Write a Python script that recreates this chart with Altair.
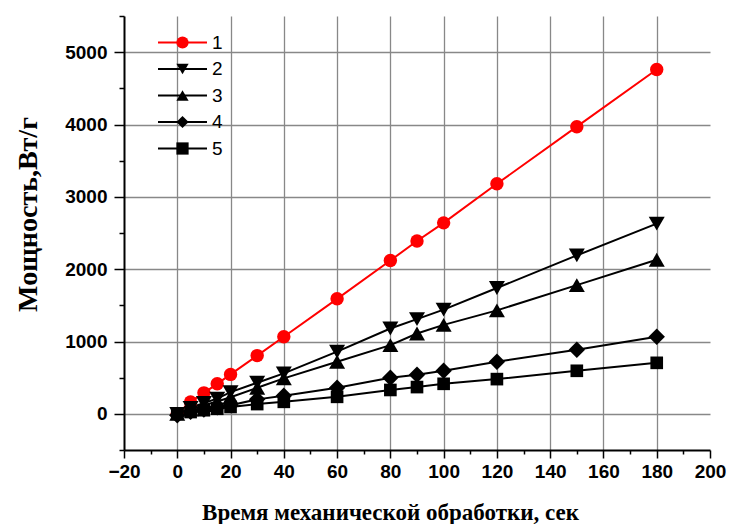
import altair as alt
import pandas as pd

x_vals = [0, 5, 10, 15, 20, 30, 40, 60, 80, 90, 100, 120, 150, 180]
s1 = [0, 165, 290, 415, 545, 805, 1065, 1590, 2120, 2390, 2640, 3180, 3970, 4760]
s2 = [0, 80, 150, 210, 300, 430, 560, 860, 1180, 1310, 1440, 1740, 2190, 2630]
s3 = [0, 60, 120, 170, 230, 360, 490, 720, 950, 1110, 1230, 1430, 1780, 2130]
s4 = [-20, 30, 60, 90, 120, 200, 250, 360, 500, 540, 595, 720, 885, 1065]
s5 = [0, 25, 50, 70, 95, 135, 166, 235, 330, 370, 415, 480, 595, 705]
series_names = ["1", "2", "3", "4", "5"]
series_colors = ["#ff0000", "#000000", "#000000", "#000000", "#000000"]
series_shapes = ["circle", "triangle-down", "triangle-up", "diamond", "square"]
series_sizes = [180, 256, 256, 270, 160]

x_major = list(range(-20, 201, 20))
x_minor = list(range(-10, 191, 20))
x_grid = list(range(0, 181, 20))
y_major = list(range(0, 5001, 1000))
y_minor = list(range(-500, 5501, 1000))

rows = []
for name, vals in zip(series_names, [s1, s2, s3, s4, s5]):
    for xv, yv in zip(x_vals, vals):
        rows.append({"t": xv, "p": yv, "series": name, "mk": name})
df = pd.DataFrame(rows)

xs = alt.Scale(domain=[-20, 200], nice=False, zero=False)
ys = alt.Scale(domain=[-500, 5500], nice=False, zero=False)

x_axis_major = alt.Axis(
    orient="bottom", offset=0, values=x_major,
    title="Время механической обработки, сек",
    titleFont="Liberation Serif", titleFontSize=23, titleFontWeight="bold", titleColor="black",
    titleX=266, titleY=69, titleBaseline="alphabetic", titleAlign="center",
    labelFont="Liberation Sans", labelFontSize=19, labelFontWeight="bold", labelColor="black",
    labelPadding=4, labelFlush=False, labelOverlap=False,
    domainColor="black", domainWidth=2,
    tickColor="black", tickWidth=1.5, tickSize=8,
    grid=False,
)
y_axis_major = alt.Axis(
    orient="left", offset=0, values=y_major, format="d",
    title="Мощность,Вт/г",
    titleFont="Liberation Serif", titleFontSize=28, titleFontWeight="bold", titleColor="black",
    titleX=-96, titleY=198, titleBaseline="middle", titleAlign="center", titleAngle=-90,
    labelFont="Liberation Sans", labelFontSize=19, labelFontWeight="bold", labelColor="black",
    labelPadding=7, labelFlush=False, labelOverlap=False,
    domainColor="black", domainWidth=2,
    tickColor="black", tickWidth=1.5, tickSize=10,
    grid=True, gridColor="#888888", gridWidth=1.3,
)
x_axis_minor = alt.Axis(
    orient="bottom", offset=0, values=x_minor, title=None,
    labels=False, domain=False, grid=False,
    tickColor="black", tickWidth=1.5, tickSize=4,
)
y_axis_minor = alt.Axis(
    orient="left", offset=0, values=y_minor, title=None,
    labels=False, domain=False, grid=False,
    tickColor="black", tickWidth=1.5, tickSize=5,
)
x_axis_grid = alt.Axis(
    orient="bottom", offset=0, values=x_grid, title=None,
    labels=False, domain=False, ticks=False,
    grid=True, gridColor="#888888", gridWidth=1.3,
)

legend_common = dict(
    title=None, orient="none", legendX=49, legendY=17,
    symbolSize=150, padding=0, rowPadding=6.5,
    labelFont="Liberation Sans", labelFontSize=19, labelColor="black",
)

grid_layer = alt.Chart(df).mark_point(opacity=0).encode(
    x=alt.X("t:Q", scale=xs, axis=x_axis_grid),
    y=alt.Y("p:Q", scale=ys, axis=None),
)

lines = alt.Chart(df).mark_line(strokeWidth=2).encode(
    x=alt.X("t:Q", scale=xs, axis=x_axis_major),
    y=alt.Y("p:Q", scale=ys, axis=y_axis_major),
    stroke=alt.Stroke(
        "series:N",
        scale=alt.Scale(domain=series_names, range=series_colors),
        legend=alt.Legend(
            symbolType="M-4,0L4,0", symbolStrokeWidth=2,
            labelOffset=20, **legend_common,
        ),
    ),
    detail="series:N",
)

mk_legend = alt.Legend(symbolStrokeWidth=0, symbolOpacity=1, labelOpacity=0, **legend_common)

points = alt.Chart(df).mark_point(filled=True, opacity=1).encode(
    x=alt.X("t:Q", scale=xs, axis=x_axis_minor),
    y=alt.Y("p:Q", scale=ys, axis=y_axis_minor),
    fill=alt.Fill("mk:N", scale=alt.Scale(domain=series_names, range=series_colors), legend=mk_legend),
    shape=alt.Shape("mk:N", scale=alt.Scale(domain=series_names, range=series_shapes), legend=mk_legend),
    size=alt.Size("mk:N", scale=alt.Scale(type="ordinal", domain=series_names, range=series_sizes), legend=None),
)

chart = alt.layer(grid_layer, lines, points).resolve_axis(
    x="independent", y="independent"
).resolve_legend(stroke="independent", fill="independent", shape="independent").properties(
    width=586, height=434,
    autosize=alt.AutoSizeParams(type="none"),
    padding={"left": 124, "top": 16, "right": 19, "bottom": 74},
    background="white",
).configure_view(stroke=None)

chart.save("out.html", embed_options={"renderer": "svg", "actions": False})
